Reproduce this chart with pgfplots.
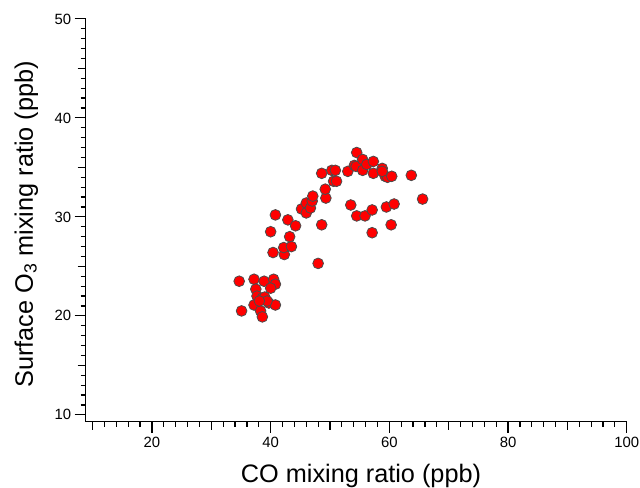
\documentclass[border=0pt]{standalone}
\usepackage{fontspec}
\setmainfont{Liberation Sans}
\usepackage{pgfplots}
\pgfplotsset{compat=1.18}
\begin{document}
\begin{tikzpicture}
\begin{axis}[
  scale only axis,
  width=544bp, height=405bp,
  xmin=8.81, xmax=100, ymin=9.3, ymax=50,
  axis lines*=left,
  axis line style={line width=1.4bp, black},
  every tick/.style={line width=1.2bp, black},
  tick align=outside,
  major tick length=11bp, minor tick length=5bp,
  xtick={20,40,60,80,100},
  minor xtick={10,12,...,98},
  ytick={10,20,30,40,50},
  minor ytick={11,12,...,49},
  extra x ticks={10,30,50,70,90},
  extra x tick labels={},
  extra x tick style={major tick length=8bp},
  extra y ticks={15,25,35,45},
  extra y tick labels={},
  extra y tick style={major tick length=8bp},
  /pgf/number format/assume math mode=true,
  tick label style={font=\fontsize{15}{18}\selectfont},
  xticklabel style={yshift=-1bp},
  yticklabel style={xshift=0bp},
  xlabel={CO mixing ratio (ppb)},
  ylabel={Surface O\textsubscript{3} mixing ratio (ppb)},
  label style={font=\fontsize{25.5}{30}\selectfont},
  x label style={at={(axis description cs:0.509,-0.150)}, anchor=base},
  y label style={at={(axis description cs:-0.0974,0.490)}, anchor=base},
  clip=false,
]
\addplot[only marks, mark=*, mark size=5.4bp,
  mark options={fill=red, draw=black!70, line width=0.8bp}]
coordinates {
(34.7,23.5) (35.1,20.5) (37.2,23.7) (37.5,22.7) (38.9,23.5) (40.5,23.7)
(40.8,23.2) (40.0,22.8) (37.7,22.0) (38.6,21.8) (37.2,21.1) (39.0,21.9)
(39.7,21.3) (40.8,21.1) (38.3,20.5) (38.6,19.9) (39.4,21.5) (38.1,21.5)
(40.4,26.4) (40.0,28.5) (40.8,30.2) (42.3,26.2) (42.2,26.9) (43.5,27.0)
(43.2,28.0) (42.9,29.7) (44.2,29.1) (45.2,30.8) (46.0,31.4) (46.0,30.4)
(46.7,30.9) (47.0,31.6) (47.1,32.1) (48.0,25.3) (48.6,29.2) (49.3,31.9)
(49.2,32.8) (48.6,34.4) (50.3,34.7) (50.9,34.7) (50.6,33.6) (51.1,33.6)
(53.0,34.6) (53.5,31.2) (54.1,35.2) (54.4,35.1) (54.5,36.5) (55.5,35.8)
(55.5,34.7) (56.2,35.3) (57.3,35.6) (57.3,34.4) (58.8,34.9) (59.3,34.1)
(59.7,34.0) (60.4,34.1) (63.7,34.2) (65.6,31.8) (54.5,30.1) (55.9,30.1)
(57.1,30.7) (57.1,28.4) (59.5,31.0) (60.8,31.3) (60.3,29.2) (58.8,34.6)
};
\coordinate (bbl) at (axis description cs:-0.1581,-0.163);
\coordinate (btr) at (axis description cs:1.0245,1.0469);
\end{axis}
\pgfresetboundingbox
\path[use as bounding box] (bbl) rectangle (btr);
\end{tikzpicture}
\end{document}
